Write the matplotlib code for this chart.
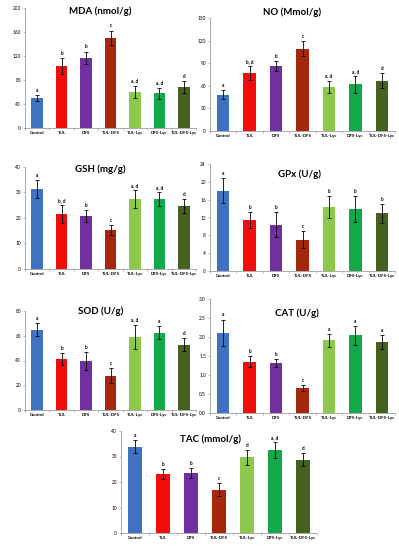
import matplotlib
matplotlib.use("Agg")
import matplotlib.pyplot as plt
import numpy as np

groups = ["Control", "TUL", "DFS", "TUL-DFS", "TUL-Lyc", "DFS-Lyc", "TUL-DFS-Lyc"]
colors = ["#3F72C0", "#F20D0D", "#7030A0", "#A5280C", "#8CC84B", "#14A84A", "#46601F"]

mda = [50, 103, 117, 150, 60, 58, 68]
mda_err = [5, 13, 10, 12, 10, 9, 10]
mda_let = ["a", "b", "b", "c", "a, d", "a, d", "d"]

no = [48, 77, 86, 109, 59, 62, 67]
no_err = [6, 9, 7, 10, 8, 11, 10]
no_let = ["a", "b, d", "b", "c", "a, d", "a, d", "d"]

gsh = [31.4, 21.7, 20.8, 15.2, 27.5, 27.3, 24.8]
gsh_err = [3.5, 3.5, 2.5, 2.0, 3.5, 2.7, 2.7]
gsh_let = ["a", "b, d", "b", "c", "a, d", "a, d", "d"]

gpx = [18.0, 11.4, 10.4, 7.0, 14.3, 13.9, 12.9]
gpx_err = [2.8, 1.8, 2.8, 1.9, 2.5, 2.9, 2.1]
gpx_let = ["a", "b", "b", "c", "b", "b", "b"]

sod = [65, 41.3, 39.5, 27.6, 59, 62.5, 52.9]
sod_err = [5, 5, 7, 6, 10, 5, 5]
sod_let = ["a", "b", "b", "c", "a, d", "a", "d"]

cat = [2.11, 1.35, 1.31, 0.65, 1.91, 2.04, 1.87]
cat_err = [0.35, 0.15, 0.10, 0.08, 0.16, 0.25, 0.18]
cat_let = ["a", "b", "b", "c", "a", "a", "a"]

tac = [33.8, 23.0, 23.5, 17.0, 29.7, 32.5, 28.7]
tac_err = [2.5, 2.0, 2.0, 2.5, 3.0, 3.0, 2.5]
tac_let = ["a", "b", "b", "c", "d", "a, d", "d"]

panels = [
    # title, values, errors, letters, ymax, step, fmt, rect(px: left, right, top, bottom), title pos (px x, y)
    ("MDA (nmol/g)", mda, mda_err, mda_let, 200, 40, "{:.0f}", (25, 196, 8, 128), (100, 11)),
    ("NO (Mmol/g)", no, no_err, no_let, 150, 30, "{:.0f}", (210, 395, 18, 131), (292, 12)),
    ("GSH (mg/g)", gsh, gsh_err, gsh_let, 40, 10, "{:.0f}", (25, 196, 167, 269), (100, 169)),
    ("GPx (U/g)", gpx, gpx_err, gpx_let, 24, 4, "{:.0f}", (210, 395, 164, 271), (300, 174)),
    ("SOD (U/g)", sod, sod_err, sod_let, 80, 20, "{:.0f}", (25, 196, 311, 410), (101, 311)),
    ("CAT (U/g)", cat, cat_err, cat_let, 3.0, 0.5, "{:.1f}", (210, 395, 299, 413), (297, 313)),
    ("TAC (mmol/g)", tac, tac_err, tac_let, 40, 10, "{:.0f}", (121, 317, 431, 533), (211, 439)),
]

W, H = 399, 550
fig = plt.figure(figsize=(W / 100, H / 100), dpi=100)
plt.rcParams['font.family'] = ['Lato', 'DejaVu Sans']

x = np.arange(len(groups))
for title, vals, errs, lets, ymax, step, fmt, (l, r, t, b), (tx, ty) in panels:
    ax = fig.add_axes([l / W, 1 - b / H, (r - l) / W, (b - t) / H])
    ax.bar(x, vals, width=0.47, color=colors, zorder=2)
    ax.errorbar(x, vals, yerr=errs, fmt="none", ecolor="black", elinewidth=0.6,
                capsize=1.2, capthick=0.6, zorder=3)
    for xi, v, e, s in zip(x, vals, errs, lets):
        ax.text(xi, v + e + ymax * 0.02, s, ha="center", va="bottom",
                fontsize=3.4, fontweight="bold", color="black")
    ax.set_xlim(-0.5, len(groups) - 0.5)
    ax.set_ylim(0, ymax)
    yt = np.arange(0, ymax + step / 2, step)
    ax.set_yticks(yt)
    ax.set_yticklabels([fmt.format(v) for v in yt], fontsize=3.4)
    ax.set_xticks(x)
    ax.set_xticklabels(groups, fontsize=3.2, fontweight="bold")
    ax.set_xticks(np.arange(-0.5, len(groups), 1), minor=True)
    ax.tick_params(axis="x", which="major", length=0, pad=2)
    ax.tick_params(axis="x", which="minor", length=1.5, width=0.4, color="#888888")
    ax.tick_params(axis="y", length=1.5, width=0.4, color="#888888", pad=1.5)
    for sp in ["top", "right"]:
        ax.spines[sp].set_visible(False)
    for sp in ["left", "bottom"]:
        ax.spines[sp].set_color("#888888")
        ax.spines[sp].set_linewidth(0.5)
    fig.text(tx / W, 1 - ty / H, title, ha="center", va="center",
             fontsize=7, fontweight="bold")

fig.savefig("out.png", dpi=100)
